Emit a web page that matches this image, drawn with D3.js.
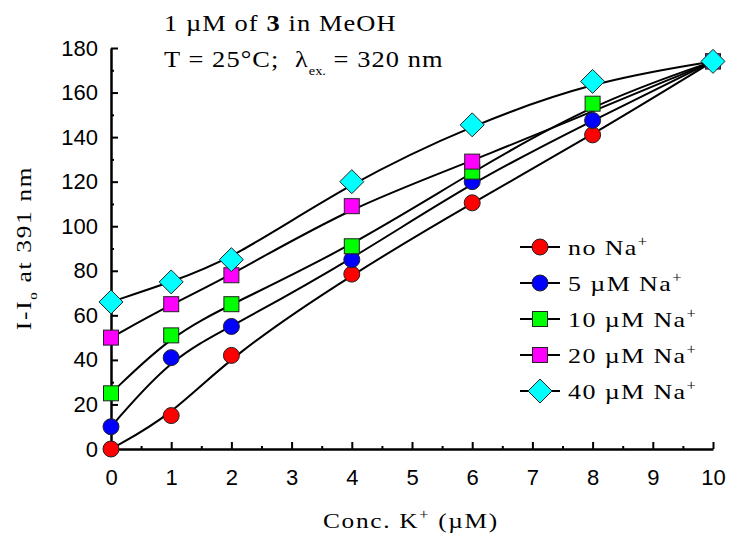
<!DOCTYPE html>
<html>
<head>
<meta charset="utf-8">
<script src="https://cdn.jsdelivr.net/npm/d3@7"></script>
<style>
  body { margin: 0; background: #fff; }
  .tick text { font-family: "Liberation Sans", Arial, sans-serif; font-size: 22px; fill: #000; }
  .serif { font-family: "Liberation Serif", "Times New Roman", serif; fill: #000; }
</style>
</head>
<body>
<svg id="chart" width="732" height="537"></svg>
<script>
// K+ concentrations (uM)
var concK = [0, 1, 2, 4, 6, 8, 10];

// I - I0 at 391 nm, one array per Na+ level
var noNa = [0, 15, 42, 78.5, 110.5, 141, 174];
var na5 = [10, 41, 55, 85, 120, 147.5, 174];
var na10 = [25, 51, 65, 91, 124.5, 155, 174];
var na20 = [50, 65, 78, 109, 129, null, 174];
var na40 = [66, 75, 85, 120, 145.5, 165, 174];

var seriesNames = ["no Na", "5 \u00b5M Na", "10 \u00b5M Na", "20 \u00b5M Na", "40 \u00b5M Na"];
var seriesColors = ["#ff0000", "#0000ff", "#00ff00", "#ff00ff", "#00ffff"];
var seriesShapes = ["circle", "circle", "square", "square", "diamond"];
var seriesValues = [noNa, na5, na10, na20, na40];

var yTicks = [0, 20, 40, 60, 80, 100, 120, 140, 160, 180];
var xTicks = [0, 1, 2, 3, 4, 5, 6, 7, 8, 9, 10];

var svg = d3.select("#chart");
var margin = {top: 48, right: 19, bottom: 88, left: 111};
var width = 732 - margin.left - margin.right;
var height = 537 - margin.top - margin.bottom;
var g = svg.append("g").attr("transform", "translate(" + margin.left + "," + margin.top + ")");

var x = d3.scaleLinear().domain([0, 10]).range([0, width]);
var y = d3.scaleLinear().domain([0, 180]).range([height, 0]);

// minor ticks first, then major axes on top
g.append("g")
    .call(d3.axisLeft(y).tickValues(d3.range(10, 180, 20)).tickSize(-3).tickFormat(""))
    .call(function (a) { a.select(".domain").remove(); })
    .selectAll("line").attr("stroke-width", 2);
g.append("g")
    .attr("transform", "translate(0," + height + ")")
    .call(d3.axisBottom(x).tickValues(d3.range(0.5, 10, 1)).tickSize(-3).tickFormat(""))
    .call(function (a) { a.select(".domain").remove(); })
    .selectAll("line").attr("stroke-width", 2);

var yAxis = g.append("g")
    .call(d3.axisLeft(y).tickValues(yTicks).tickSize(-7).tickSizeOuter(0).tickPadding(13));
var xAxis = g.append("g")
    .attr("transform", "translate(0," + height + ")")
    .call(d3.axisBottom(x).tickValues(xTicks).tickSize(-7).tickSizeOuter(0).tickPadding(20));
[yAxis, xAxis].forEach(function (a) {
    a.select(".domain").attr("stroke-width", 2.5);
    a.selectAll(".tick line").attr("stroke-width", 2);
});

// smoothed fit curves
var line = d3.line()
    .x(function (d) { return x(d[0]); })
    .y(function (d) { return y(d[1]); })
    .curve(d3.curveBasis);

seriesValues.forEach(function (vals) {
    var pts = concK.map(function (k, i) { return [k, vals[i]]; })
        .filter(function (d) { return d[1] != null; });
    g.append("path")
        .attr("d", line(pts))
        .attr("fill", "none")
        .attr("stroke", "#000")
        .attr("stroke-width", 2);
});

function drawMarker(sel, shape, color) {
    if (shape === "circle") {
        sel.append("circle").attr("r", 8);
    } else if (shape === "square") {
        sel.append("rect").attr("x", -7.5).attr("y", -7.5).attr("width", 15).attr("height", 15);
    } else {
        sel.append("path").attr("d", "M0,-12L12,0L0,12L-12,0Z");
    }
    sel.selectAll("circle,rect,path")
        .attr("fill", color)
        .attr("stroke", "#222")
        .attr("stroke-width", 1);
}

seriesValues.forEach(function (vals, s) {
    var pts = concK.map(function (k, i) { return [k, vals[i]]; })
        .filter(function (d) { return d[1] != null; });
    g.append("g").selectAll("g")
        .data(pts)
        .enter()
        .append("g")
        .attr("transform", function (d) { return "translate(" + x(d[0]) + "," + y(d[1]) + ")"; })
        .each(function () { drawMarker(d3.select(this), seriesShapes[s], seriesColors[s]); });
});

// legend
var legend = svg.append("g")
    .selectAll("g")
    .data(seriesNames)
    .enter()
    .append("g")
    .attr("transform", function (d, i) { return "translate(540," + (247 + i * 36) + ")"; });

legend.append("line")
    .attr("x1", -20).attr("x2", 20)
    .attr("stroke", "#000").attr("stroke-width", 2);
legend.each(function (d, i) { drawMarker(d3.select(this), seriesShapes[i], seriesColors[i]); });

var lt = legend.append("text")
    .attr("class", "serif")
    .attr("transform", "translate(28,8) scale(1.18,1)")
    .style("font-size", "22px")
    .style("letter-spacing", "1.2px");
lt.append("tspan").text(function (d) { return d; });
lt.append("tspan").attr("dy", -9).style("font-size", "14px").text("+");

// annotation
var t1 = svg.append("text").attr("class", "serif")
    .attr("transform", "translate(164,31) scale(1.1,1)")
    .style("font-size", "24px")
    .style("letter-spacing", "1px");
t1.append("tspan").text("1 \u00b5M of ");
t1.append("tspan").style("font-weight", "bold").text("3");
t1.append("tspan").text(" in MeOH");

var t2 = svg.append("text").attr("class", "serif")
    .attr("transform", "translate(164,67) scale(1.1,1)")
    .style("font-size", "24px")
    .style("letter-spacing", "1px")
    .style("white-space", "pre");
t2.append("tspan").text("T = 25\u00b0C;  \u03bb");
t2.append("tspan").attr("dy", 8).style("font-size", "13px").style("letter-spacing", "0px").text("ex.");
t2.append("tspan").attr("dy", -8).text(" = 320 nm");

// axis titles
var xt = svg.append("text").attr("class", "serif")
    .attr("transform", "translate(411,528) scale(1.15,1)")
    .attr("text-anchor", "middle")
    .style("font-size", "22px")
    .style("letter-spacing", "1.5px");
xt.append("tspan").text("Conc. K");
xt.append("tspan").attr("dy", -9).style("font-size", "14px").text("+");
xt.append("tspan").attr("dy", 9).text(" (\u00b5M)");

var yt = svg.append("text").attr("class", "serif")
    .attr("transform", "translate(31,248) rotate(-90) scale(1.15,1)")
    .attr("text-anchor", "middle")
    .style("font-size", "22px")
    .style("letter-spacing", "1.5px");
yt.append("tspan").text("I-I");
yt.append("tspan").attr("dy", 6).style("font-size", "13px").text("o");
yt.append("tspan").attr("dy", -6).text(" at 391 nm");
</script>
</body>
</html>
